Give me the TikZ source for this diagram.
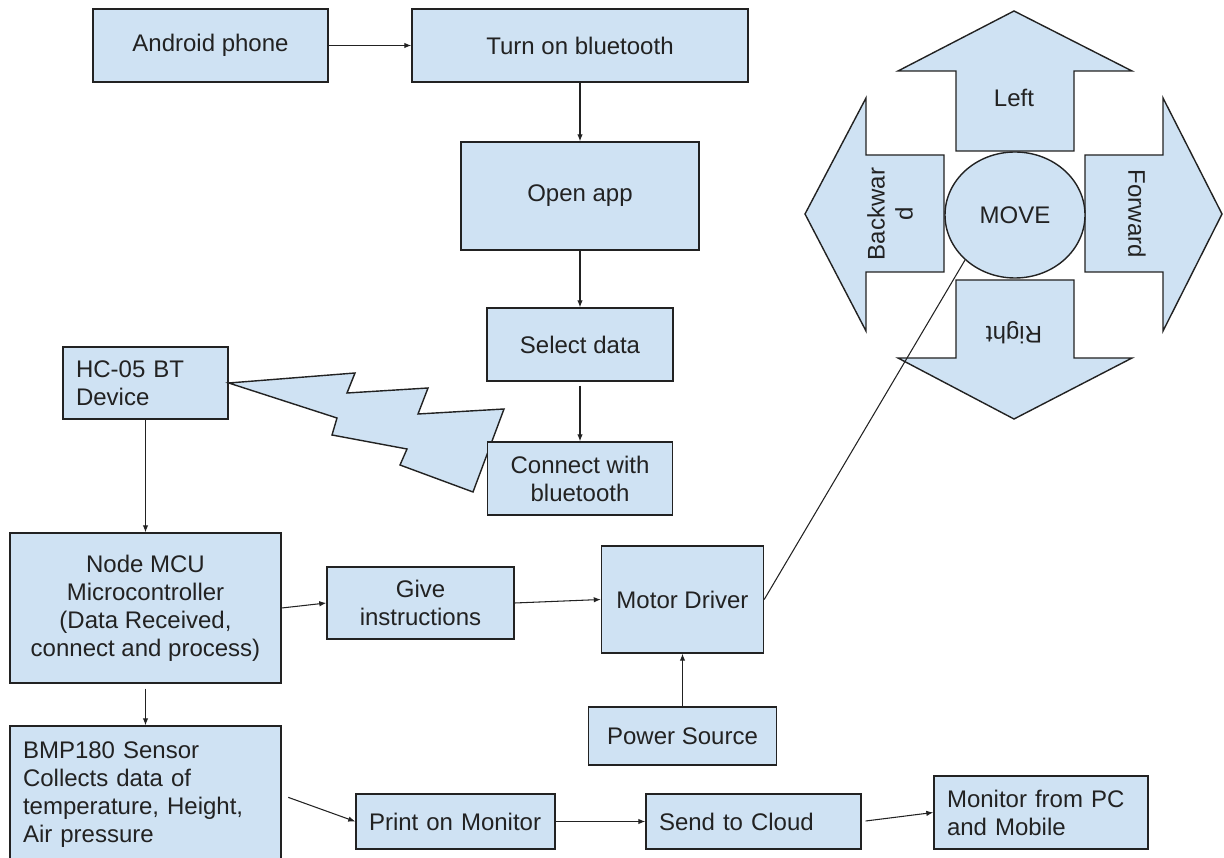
\documentclass[tikz,border=0pt]{standalone}
\usepackage{fontspec}
\setmainfont{Liberation Sans}
\usepackage{xcolor}
\usetikzlibrary{positioning, shapes.geometric, arrows.meta, calc}
\definecolor{boxblue}{HTML}{CFE2F3}
\definecolor{inkgray}{HTML}{222222}

\begin{document}
\begin{tikzpicture}[
		blk/.style={shape=rectangle, draw=inkgray, fill=boxblue, line width=0.8pt, inner sep=0pt, align=center, text=inkgray, font=\fontsize{13.66}{15.9}\selectfont},
		blkl/.style={blk, align=left, inner xsep=0.26cm},
		flow/.style={draw=inkgray, line width=0.6pt, -{Latex[length=1.4mm, width=1.1mm]}},
		bigarrow/.style={draw=inkgray, fill=boxblue, line width=0.8pt, line join=miter},
		lbl/.style={text=inkgray, align=center, inner sep=0pt, font=\fontsize{13.66}{15.9}\selectfont}
	]
		\useasboundingbox (0,0) rectangle (24.48,17.14);
		% phone side
		\node[blk, minimum width=4.70cm, minimum height=1.46cm] (android) at (4.21, 16.23) {Android phone};
		\node[blk, minimum width=6.72cm, minimum height=1.46cm] (turnon) at (11.60, 16.23) {Turn on bluetooth};
		\node[blk, minimum width=4.76cm, minimum height=2.16cm] (openapp) at (11.60, 13.22) {Open app};
		\node[blk, minimum width=3.72cm, minimum height=1.46cm] (selectdata) at (11.60, 10.25) {Select data};
		% bluetooth module and link
		\node[blkl, text width=2.78cm, minimum height=1.44cm] (hc05) at (2.91, 9.48) {HC-05 BT\\Device};
		\draw[bigarrow] (hc05.east) -- (7.10, 9.68) -- (6.94, 9.28) -- (8.56, 9.38) -- (8.36, 8.86) -- (10.08, 8.96) -- (9.46, 7.30) -- (8.00, 7.84) -- (8.14, 8.16) -- (6.64, 8.44) -- (6.74, 8.78) -- cycle;
		\node[blk, minimum width=3.70cm, minimum height=1.46cm] (connectbt) at (11.60, 7.57) {Connect with\\bluetooth};
		% controller side
		\node[blk, minimum width=5.42cm, minimum height=3.00cm] (nodemcu) at (2.91, 4.98) {Node MCU\\Microcontroller\\(Data Received,\\connect and process)};
		\node[blk, minimum width=3.74cm, minimum height=1.44cm] (giveinstr) at (8.41, 5.08) {Give\\instructions};
		\node[blk, minimum width=3.24cm, minimum height=2.14cm] (motor) at (13.65, 5.15) {Motor Driver};
		\node[blk, minimum width=3.76cm, minimum height=1.16cm] (power) at (13.65, 2.42) {Power Source};
		\node[blkl, text width=4.90cm, minimum height=2.76cm] (bmp) at (2.91, 1.24) {BMP180 Sensor\\Collects data of\\temperature, Height,\\Air pressure};
		\node[blkl, text width=3.46cm, minimum height=1.10cm] (print) at (9.11, 0.71) {Print on Monitor};
		\node[blkl, text width=3.78cm, minimum height=1.10cm] (cloud) at (15.07, 0.71) {Send to Cloud};
		\node[blkl, text width=3.76cm, minimum height=1.46cm] (monitor) at (20.82, 0.89) {Monitor from PC\\and Mobile};
		% move pad
		\draw[bigarrow] (19.12, 14.12) -- (19.12, 15.72) -- (17.96, 15.72) -- (20.28, 16.92) -- (22.64, 15.72) -- (21.48, 15.72) -- (21.48, 14.12) -- cycle;
		\draw[bigarrow] (19.12, 11.54) -- (19.12, 9.98) -- (17.96, 9.98) -- (20.28, 8.76) -- (22.64, 9.98) -- (21.48, 9.98) -- (21.48, 11.54) -- cycle;
		\draw[bigarrow] (18.88, 14.04) -- (17.32, 14.04) -- (17.32, 15.18) -- (16.10, 12.86) -- (17.32, 10.52) -- (17.32, 11.70) -- (18.88, 11.70) -- cycle;
		\draw[bigarrow] (21.70, 14.04) -- (23.26, 14.04) -- (23.26, 15.18) -- (24.44, 12.86) -- (23.26, 10.52) -- (23.26, 11.70) -- (21.70, 11.70) -- cycle;
		\node[blk, shape=ellipse, minimum width=2.80cm, minimum height=2.52cm] (move) at (20.30, 12.84) {MOVE};
		\node[lbl] (lefttxt) at (20.28, 15.18) {Left};
		\node[lbl, rotate=180] (righttxt) at (20.28, 10.48) {Right};
		\node[lbl, rotate=90] (backtxt) at (17.80, 12.86) {Backwar\\d};
		\node[lbl, rotate=-90] (fwdtxt) at (22.74, 12.86) {Forward};
		% connectors
		\draw[flow] (android) -- (turnon);
		\draw[flow] (turnon) -- (openapp);
		\draw[flow] (openapp) -- (selectdata);
		\draw[flow, shorten <=0.08cm] (selectdata) -- (connectbt);
		\draw[flow] (hc05) -- (nodemcu);
		\draw[flow] (nodemcu.east) -- (giveinstr.west);
		\draw[flow] (giveinstr.east) -- (motor.west);
		\draw[flow] (power) -- (motor);
		\draw[flow, shorten <=0.1cm] (nodemcu) -- (bmp);
		\draw[flow, shorten <=0.14cm] (bmp.east) -- (print.west);
		\draw[flow] (print) -- (cloud);
		\draw[flow, shorten <=0.08cm] (cloud.east) -- (monitor.west);
		\draw[inkgray, line width=0.6pt] (motor.east) -- (move.south west);
	\end{tikzpicture}
\end{document}
